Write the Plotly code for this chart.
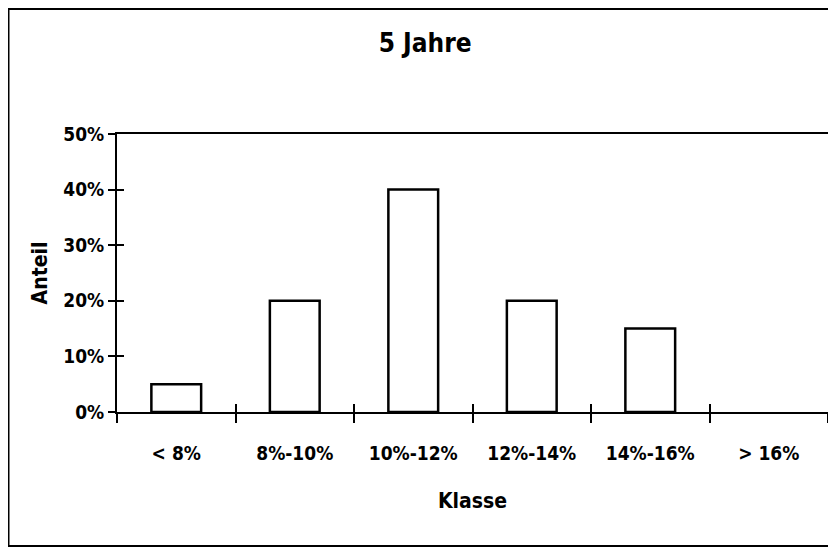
import plotly.graph_objects as go

categories = ["< 8%", "8%-10%", "10%-12%", "12%-14%", "14%-16%", "> 16%"]
shares = [0.05, 0.20, 0.40, 0.20, 0.15, 0.0]
y_ticks = [0, 0.1, 0.2, 0.3, 0.4, 0.5]
y_tick_labels = ["0%", "10%", "20%", "30%", "40%", "50%"]

FONT = "DejaVu Sans Condensed, Liberation Sans, Arial, sans-serif"

# no outline for empty classes (nothing is drawn there in the original)
outline_widths = [2.5 if v > 0 else 0 for v in shares]

fig = go.Figure()
fig.add_trace(go.Bar(
    x=categories, y=shares,
    marker=dict(color="white", line=dict(color="black", width=outline_widths)),
    width=0.42, hoverinfo="skip", showlegend=False,
))
# duplicate transparent trace on overlay axes for the inner halves of the ticks
fig.add_trace(go.Bar(
    x=categories, y=shares, xaxis="x2", yaxis="y2",
    marker=dict(color="rgba(0,0,0,0)", line=dict(width=0)),
    width=0.42, hoverinfo="skip", showlegend=False,
))

axis_font = dict(family=FONT, size=19, color="black", weight="bold")
title_font = dict(family=FONT, size=21, color="black", weight="bold")
fig.update_layout(
    width=836, height=549,
    margin=dict(l=109, r=16, t=126, b=145, autoexpand=False),
    paper_bgcolor="white", plot_bgcolor="white",
    title=dict(text="5 Jahre", x=0.499, xanchor="center", y=0.936, yanchor="middle",
               font=dict(family=FONT, size=26, color="black", weight="bold")),
    xaxis=dict(
        type="category", categoryorder="array", categoryarray=categories,
        range=[-0.5, 5.5], tickson="boundaries", automargin=False,
        ticks="outside", ticklen=9, tickwidth=1.5, tickcolor="black",
        showline=True, linecolor="black", linewidth=2, mirror=True,
        showgrid=False, zeroline=False,
        tickfont=axis_font, ticklabelstandoff=23,
        title=dict(text="Klasse", font=title_font, standoff=31),
    ),
    yaxis=dict(
        range=[0, 0.5], tickvals=y_ticks, ticktext=y_tick_labels, automargin=False,
        ticks="outside", ticklen=7, tickwidth=1.5, tickcolor="black",
        showline=True, linecolor="black", linewidth=2, mirror=True,
        showgrid=False, zeroline=False,
        tickfont=axis_font,
        title=dict(text="Anteil", font=title_font, standoff=10),
    ),
    xaxis2=dict(
        type="category", categoryorder="array", categoryarray=categories,
        range=[-0.5, 5.5], tickson="boundaries", overlaying="x", anchor="y2",
        ticks="inside", ticklen=8, tickwidth=1.5, tickcolor="black",
        showticklabels=False, showgrid=False, zeroline=False, showline=False,
    ),
    yaxis2=dict(
        range=[0, 0.5], tickvals=y_ticks, overlaying="y", anchor="x2", side="left",
        ticks="inside", ticklen=7, tickwidth=1.5, tickcolor="black",
        showticklabels=False, showgrid=False, zeroline=False, showline=False,
    ),
    shapes=[dict(type="rect", xref="paper", yref="paper",
                 x0=-0.1526, x1=1.05, y0=-0.482, y1=1.4496,
                 line=dict(color="black", width=2), fillcolor="rgba(0,0,0,0)", layer="below")],
)

fig.write_html("out.html")
